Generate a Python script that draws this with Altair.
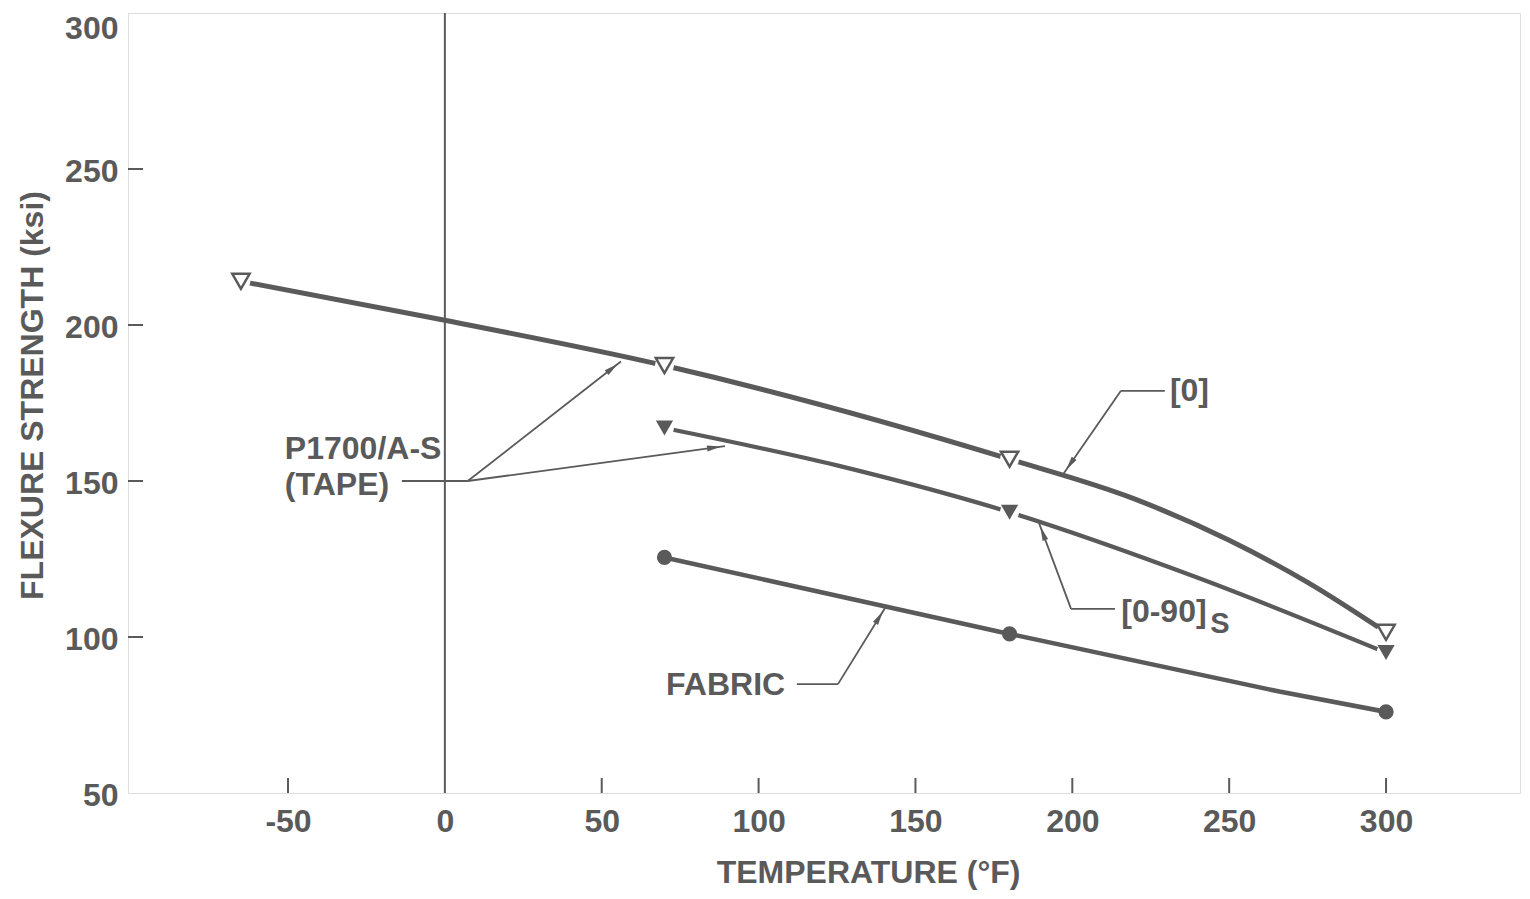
import math
import altair as alt
import pandas as pd

# ---------------- data ----------------
# measured points (markers)
t0_temp = [-65, 70, 180, 300]
t0_val = [214, 187, 157, 101.5]
t090_temp = [70, 180, 300]
t090_val = [167, 140, 95]
fab_temp = [70, 180, 300]
fab_val = [125.5, 101, 76]

# faired curves as drawn on the picture
c0_temp = [-65, 0, 70, 180, 220, 250, 275, 300]
c0_val = [214, 201.5, 187, 157, 144.2, 131.0, 117.5, 101.5]
c090_temp = [70, 125, 180, 240, 300]
c090_val = [167, 155, 140, 119, 95]
cfab_temp = [70, 180, 266, 300]
cfab_val = [125.5, 101, 82.5, 76]

# axis ticks
x_ticks = [-50, 0, 50, 100, 150, 200, 250, 300]
y_ticks = [50, 100, 150, 200, 250, 300]
x_inner_ticks = [-50, 50, 100, 150, 200, 250, 300]
y_inner_ticks = [100, 150, 200, 250]

# annotation texts and anchors (data units)
label_text = ["P1700/A-S", "(TAPE)", "[0]", "[0-90]", "FABRIC"]
label_x = [-51, -51, 231.1, 215.6, 70.5]
label_y = [157.2, 145.5, 175.7, 104.7, 81.4]
sub_text = ["S"]
sub_x = [244]
sub_y = [101.3]

# leader segments: start -> end
lead_x0 = [-13.7, 7.3, 7.3, 229.5, 215.5, 213.6, 199.6, 112.2, 125.3]
lead_y0 = [150, 150, 150, 178.9, 178.9, 109, 109, 84.9, 84.9]
lead_x1 = [7.3, 56.1, 89.3, 215.5, 197.3, 199.6, 189.4, 125.3, 140.3]
lead_y1 = [150, 188.3, 161.2, 178.9, 152.5, 109, 136.5, 84.9, 109.3]
lead_arrow = [False, True, True, False, True, False, True, False, True]

# ---------------- styling ----------------
GRAY = "#5a5a5a"
FONT = "Liberation Sans"
W, H = 1392, 780
XDOM = [-101, 342.7]
YDOM = [50, 300]

xscale = alt.Scale(domain=XDOM, nice=False, zero=False)
yscale = alt.Scale(domain=YDOM, nice=False, zero=False)

xaxis = alt.Axis(
    values=x_ticks, title="TEMPERATURE (°F)", domain=False, ticks=False, grid=False,
    labelFont=FONT, labelFontSize=32, labelFontWeight="bold", labelColor=GRAY,
    labelPadding=13, labelFlush=False,
    labelExpr="replace(datum.label, '\u2212', '-')",
    titleFont=FONT, titleFontSize=32, titleFontWeight="bold", titleColor=GRAY,
    titleX=740, titleY=89, titleBaseline="alphabetic", titleAlign="center",
)
yaxis = alt.Axis(
    values=y_ticks, title="FLEXURE STRENGTH (ksi)", domain=False, ticks=False, grid=False,
    labelFont=FONT, labelFontSize=32, labelFontWeight="bold", labelColor=GRAY,
    labelPadding=10, labelFlush=False,
    labelOffset={"condition": {"test": "datum.value == 300", "value": 15}, "value": 2},
    titleFont=FONT, titleFontSize=32, titleFontWeight="bold", titleColor=GRAY,
    titleAngle=270, titleX=-96, titleY=382, titleBaseline="middle", titleAlign="center",
)


def X(field):
    return alt.X(field, type="quantitative", scale=xscale, axis=xaxis)


def Y(field):
    return alt.Y(field, type="quantitative", scale=yscale, axis=yaxis)


def curve_df(temps, vals):
    return pd.DataFrame({"t": temps, "v": vals})


def curve(temps, vals, width, interp):
    return alt.Chart(curve_df(temps, vals)).mark_line(
        color=GRAY, strokeWidth=width, interpolate=interp, strokeCap="round"
    ).encode(x=X("t"), y=Y("v"))


line0 = curve(c0_temp, c0_val, 5, "monotone")
line090 = curve(c090_temp, c090_val, 4.2, "monotone")
linefab = curve(cfab_temp, cfab_val, 4.6, "linear")

# white halos around triangle markers (gaps in the lines)
halo_df = pd.DataFrame({"t": t0_temp + t090_temp, "v": t0_val + t090_val})
halos = alt.Chart(halo_df).mark_point(
    shape="circle", filled=True, color="white", opacity=1, size=360
).encode(x=X("t"), y=Y("v"))

open_tri = alt.Chart(curve_df(t0_temp, t0_val)).mark_point(
    shape="triangle-down", filled=True, fill="white", stroke=GRAY, strokeWidth=2.5,
    size=300, opacity=1,
).encode(x=X("t"), y=Y("v"))

fill_tri = alt.Chart(curve_df(t090_temp, t090_val)).mark_point(
    shape="triangle-down", filled=True, color=GRAY, size=300, opacity=1
).encode(x=X("t"), y=Y("v"))

dots = alt.Chart(curve_df(fab_temp, fab_val)).mark_point(
    shape="circle", filled=True, color=GRAY, size=230, opacity=1
).encode(x=X("t"), y=Y("v"))

# zero line
zero_line = alt.Chart(pd.DataFrame({"t": [0]})).mark_rule(
    color=GRAY, strokeWidth=2
).encode(x=X("t"))

# inward ticks
xt = alt.Chart(pd.DataFrame({"t": x_inner_ticks})).mark_rule(
    color=GRAY, strokeWidth=2
).encode(x=X("t"), y=alt.value(H - 15), y2=alt.value(H))
yt = alt.Chart(pd.DataFrame({"v": y_inner_ticks})).mark_rule(
    color=GRAY, strokeWidth=2
).encode(y=Y("v"), x=alt.value(0), x2=alt.value(15))

# leaders
lead_df = pd.DataFrame({"x0": lead_x0, "y0": lead_y0, "x1": lead_x1, "y1": lead_y1})
leaders = alt.Chart(lead_df).mark_rule(color=GRAY, strokeWidth=1.8).encode(
    x=X("x0"), y=Y("y0"), x2="x1", y2="y1"
)

# arrowheads on leaders (orientation derived from the scales)
sx = W / (XDOM[1] - XDOM[0])
sy = H / (YDOM[1] - YDOM[0])
ax, ay, aang = [], [], []
for x0, y0, x1, y1, a in zip(lead_x0, lead_y0, lead_x1, lead_y1, lead_arrow):
    if not a:
        continue
    dxp = (x1 - x0) * sx
    dyp = -(y1 - y0) * sy
    L = math.hypot(dxp, dyp)
    ux, uy = dxp / L, dyp / L
    back = 11
    ax.append(x1 - back * ux / sx)
    ay.append(y1 + back * uy / sy)
    aang.append(math.degrees(math.atan2(dxp, -dyp)) % 360)
arrow_df = pd.DataFrame({"t": ax, "v": ay, "ang": aang})
arrows = alt.Chart(arrow_df).mark_point(
    shape="M0,-1L0.42,1L-0.42,1Z", filled=True, color=GRAY, size=200, opacity=1
).encode(x=X("t"), y=Y("v"), angle=alt.Angle("ang", type="quantitative", scale=None))

# labels
lab_df = pd.DataFrame({"t": label_x, "v": label_y, "s": label_text})
labels = alt.Chart(lab_df).mark_text(
    align="left", baseline="alphabetic", font=FONT, fontSize=32, fontWeight="bold", color=GRAY
).encode(x=X("t"), y=Y("v"), text="s")
sub_df = pd.DataFrame({"t": sub_x, "v": sub_y, "s": sub_text})
subs = alt.Chart(sub_df).mark_text(
    align="left", baseline="alphabetic", font=FONT, fontSize=29, fontWeight="bold", color=GRAY
).encode(x=X("t"), y=Y("v"), text="s")

chart = alt.layer(
    zero_line, xt, yt, leaders, line0, line090, linefab, halos,
    open_tri, fill_tri, dots, arrows, labels, subs,
).properties(
    width=W, height=H,
    autosize=alt.AutoSizeParams(type="none"),
    padding={"left": 120, "top": 5, "right": 2, "bottom": 97},
).configure_view(
    stroke=GRAY, strokeWidth=2.5
).configure(background="white")

chart.save("out.html", embed_options={"renderer": "svg", "actions": False})
